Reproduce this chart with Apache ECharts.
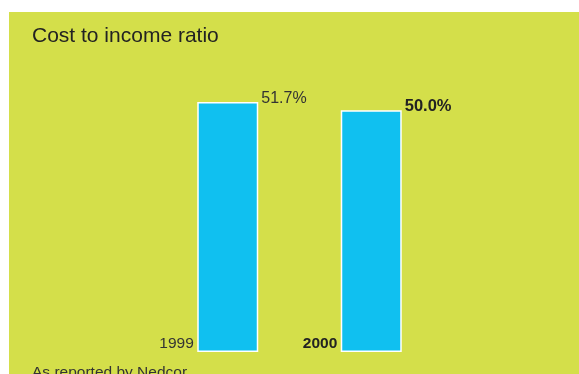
<!DOCTYPE html>
<html><head><meta charset="utf-8">
<script src="https://cdn.jsdelivr.net/npm/echarts@6/dist/echarts.min.js"></script>
<style>html,body{margin:0;padding:0;background:#fff}#c{width:579px;height:374px}</style>
</head><body><div id="c"></div>
<script>
const categories = ['1999', '2000'];
const values = [51.7, 50.0];
const valueLabels = ['51.7%', '50.0%'];
const boldFlags = [false, true];

const chart = echarts.init(document.getElementById('c'), null, {renderer: 'canvas'});
const FONT = '"Liberation Sans", Arial, Helvetica, sans-serif';
chart.setOption({
  animation: false,
  textStyle: {fontFamily: FONT},
  graphic: [{
    type: 'rect', z: -10, silent: true,
    shape: {x: 9, y: 12, width: 570, height: 362},
    style: {fill: '#d4df4a'}
  }],
  title: [{
    text: 'Cost to income ratio', left: 27, top: 21,
    textStyle: {fontFamily: FONT, fontSize: 21, fontWeight: 'normal', color: '#222'}
  }, {
    text: 'As reported by Nedcor', left: 27, top: 360,
    textStyle: {fontFamily: FONT, fontSize: 15.5, fontWeight: 'normal', color: '#333'}
  }],
  grid: {left: 156, width: 287, top: 62, bottom: 22},
  xAxis: {
    type: 'category', data: categories,
    axisLine: {show: false}, axisTick: {show: false},
    axisLabel: {
      margin: 0, verticalAlign: 'bottom', align: 'right',
      padding: [0, 34, 0, 0],
      formatter: (v, i) => boldFlags[i] ? '{b|' + v + '}' : '{n|' + v + '}',
      rich: {
        n: {fontFamily: FONT, fontSize: 15.5, color: '#333'},
        b: {fontFamily: FONT, fontSize: 15.5, fontWeight: 'bold', color: '#222'}
      }
    }
  },
  yAxis: {type: 'value', min: 0, max: 60, show: false, splitLine: {show: false}},
  series: [{
    type: 'bar', barWidth: 61, z: 2,
    itemStyle: {color: '#10c0f0', borderColor: '#ffffff', borderWidth: 1.5},
    data: values.map((v, i) => ({
      value: v,
      label: {
        show: true, position: [64, -4], align: 'left', verticalAlign: 'middle',
        formatter: valueLabels[i],
        fontFamily: FONT, fontSize: boldFlags[i] ? 16.5 : 16,
        fontWeight: boldFlags[i] ? 'bold' : 'normal',
        color: boldFlags[i] ? '#222' : '#333'
      }
    }))
  }]
});
</script></body></html>
